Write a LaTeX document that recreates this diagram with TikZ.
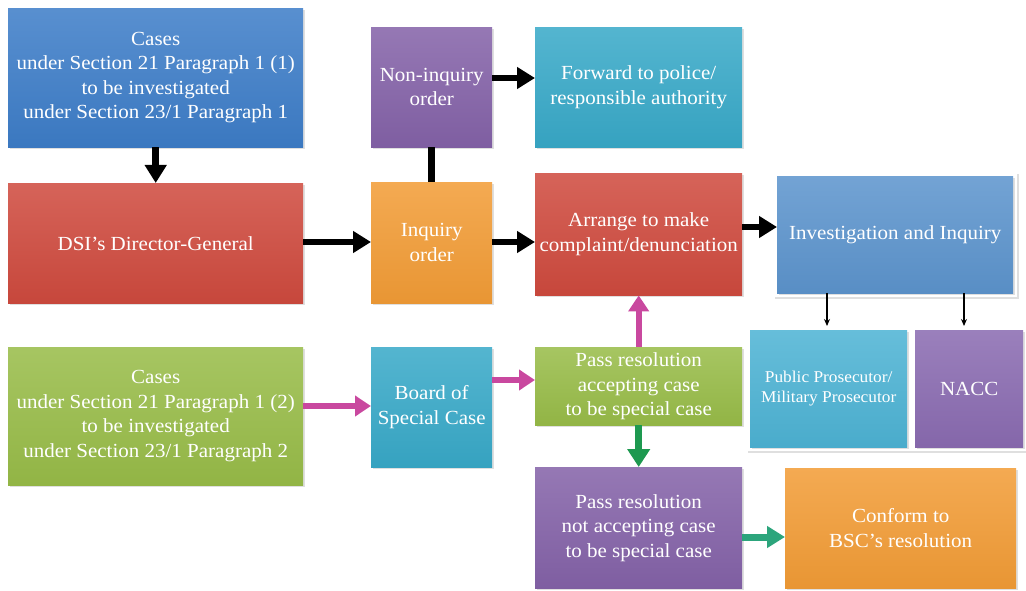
\documentclass[tikz,border=0pt]{standalone}
\usepackage{fontspec}
\setmainfont[FakeStretch=1.05]{Liberation Serif}
\usetikzlibrary{arrows.meta,shadows}
\definecolor{cBlue}{HTML}{3D7DC8}
\definecolor{cRed}{HTML}{CF4A3E}
\definecolor{cPurple}{HTML}{8462A8}
\definecolor{cOrange}{HTML}{F29C36}
\definecolor{cTeal}{HTML}{38A9C8}
\definecolor{cGreen}{HTML}{98BC48}
\definecolor{cInv}{HTML}{5C94CD}
\definecolor{cPP}{HTML}{4DB3D4}
\definecolor{cNacc}{HTML}{8A6BB1}
\definecolor{cPink}{HTML}{C9489F}
\definecolor{cDGreen}{HTML}{1E9950}
\definecolor{cTGreen}{HTML}{2CA57C}
\begin{document}
\begin{tikzpicture}[x=1pt,y=-1pt,
  box/.style={shape=rectangle, inner sep=2pt, anchor=north west, align=center,
    text=white, font=\fontsize{20}{24.5}\selectfont,
    top color=#1!86!white, bottom color=#1!96!black, draw=none,
    drop shadow={opacity=0.25, shadow xshift=1.5pt, shadow yshift=-2pt}},
  smallbox/.style={box=#1, font=\fontsize{16.5}{20.5}\selectfont},
  frame/.style={fill=white, drop shadow={opacity=0.25, shadow xshift=1.5pt, shadow yshift=-2pt}},
  blk/.style={draw=black, line width=6.5pt, -{Triangle[length=18pt,width=21pt]}},
  blkline/.style={draw=black, line width=6.5pt},
  pinkarrow/.style={draw=cPink, line width=6pt, -{Triangle[length=16pt,width=20pt]}},
  greenarrow/.style={draw=cDGreen, line width=7pt, -{Triangle[length=18pt,width=22pt]}},
  tealarrow/.style={draw=cTGreen, line width=7pt, -{Triangle[length=18pt,width=21pt]}},
  thinarrow/.style={draw=black, line width=1.1pt, -{Stealth[length=7pt,width=6pt]}}
]
\useasboundingbox (0,0) rectangle (1026,591);
\fill[white] (0,0) rectangle (1026,591);

% frames
\fill[frame] (773,172) rectangle (1017,297);
\fill[frame] (746,326) rectangle (1026,451);

% boxes
\node[box=cBlue, minimum width=295pt, minimum height=139pt] (blue1) at (8,8)
  {Cases\\under Section 21 Paragraph 1 (1)\\to be investigated\\under Section 23/1 Paragraph 1};
\node[box=cRed, minimum width=295pt, minimum height=120pt] (dsi) at (8,183)
  {DSI’s Director-General};
\node[box=cPurple, minimum width=121pt, minimum height=120pt] (non) at (371,27)
  {Non-inquiry\\order};
\node[box=cOrange, minimum width=121pt, minimum height=121pt] (inq) at (371,182)
  {Inquiry\\order};
\node[box=cTeal, minimum width=207pt, minimum height=120pt] (fwd) at (535,27)
  {Forward to police/\\responsible authority};
\node[box=cRed, minimum width=207pt, minimum height=122pt] (arr) at (535,173)
  {Arrange to make\\complaint/denunciation};
\node[box=cInv, minimum width=236pt, minimum height=117pt] (inv) at (777,176)
  {Investigation and Inquiry};
\node[smallbox=cPP, minimum width=157pt, minimum height=117pt] (pp) at (750,330)
  {Public Prosecutor/\\Military Prosecutor};
\node[box=cNacc, minimum width=108pt, minimum height=117pt] (nacc) at (915,330)
  {NACC};
\node[box=cGreen, minimum width=295pt, minimum height=138pt] (green) at (8,347)
  {Cases\\under Section 21 Paragraph 1 (2)\\to be investigated\\under Section 23/1 Paragraph 2};
\node[box=cTeal, minimum width=121pt, minimum height=120pt] (board) at (371,347)
  {Board of\\Special Case};
\node[box=cGreen, minimum width=207pt, minimum height=78pt, inner sep=0pt] (pass) at (535,347)
  {Pass resolution\\accepting case\\to be special case};
\node[box=cPurple, minimum width=207pt, minimum height=121pt] (passnot) at (535,467)
  {Pass resolution\\not accepting case\\to be special case};
\node[box=cOrange, minimum width=231pt, minimum height=120pt] (conf) at (785,468)
  {Conform to\\BSC’s resolution};

% connectors
\draw[blk] (blue1.south) -- (dsi.north);
\draw[blk] (dsi.east |- 0,242) -- (inq.west |- 0,242);
\draw[blkline] (inq.north) -- (non.south);
\draw[blk] (non.east |- 0,78) -- (fwd.west |- 0,78);
\draw[blk] (inq.east |- 0,242) -- (arr.west |- 0,242);
\draw[blk] (arr.east |- 0,227) -- (inv.west |- 0,227);
\draw[thinarrow] (inv.south -| 827,0) -- (827,326);
\draw[thinarrow] (inv.south -| 964,0) -- (964,326);
\draw[pinkarrow] (green.east |- 0,406) -- (board.west |- 0,406);
\draw[pinkarrow] (board.east |- 0,380) -- (pass.west |- 0,380);
\draw[pinkarrow] (pass.north) -- (arr.south);
\draw[greenarrow] (pass.south) -- (passnot.north);
\draw[tealarrow] (passnot.east |- 0,537) -- (conf.west |- 0,537);
\end{tikzpicture}
\end{document}
